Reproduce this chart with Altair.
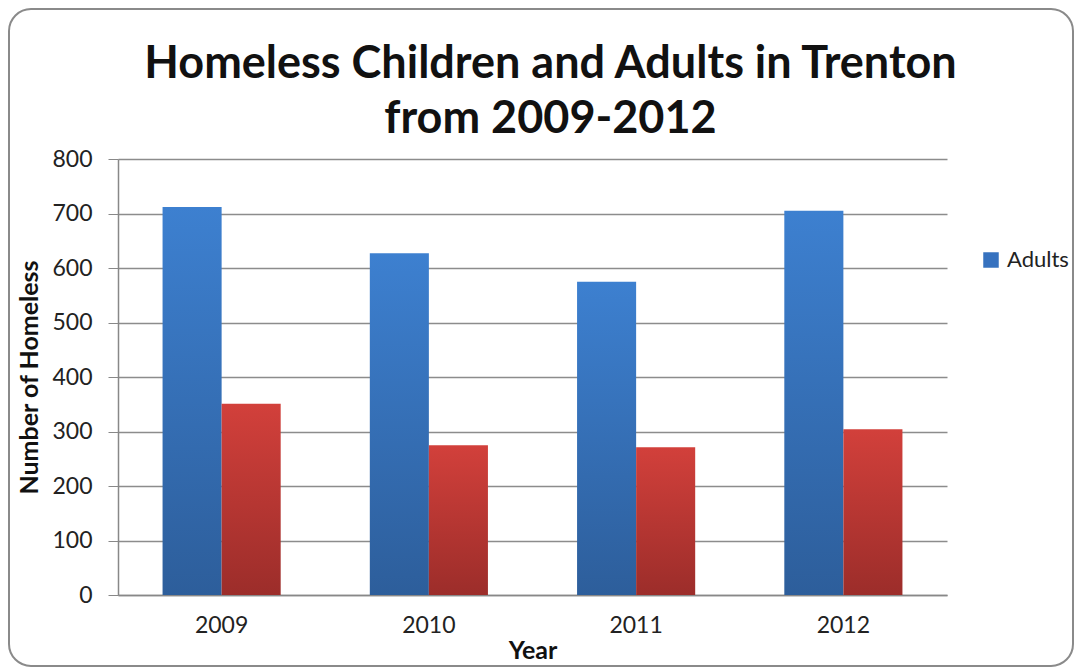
import altair as alt
import pandas as pd

years = ["2009", "2010", "2011", "2012"]
series = ["Adults", "Children"]
adults = [712, 627, 575, 705]
children = [351, 275, 271, 304]
y_ticks = [0, 100, 200, 300, 400, 500, 600, 700, 800]

df = pd.DataFrame({
    "Year": years * 2,
    "Series": [series[0]] * len(years) + [series[1]] * len(years),
    "Value": adults + children,
})

FONT = "Lato"

blue_grad = alt.LinearGradient(
    gradient="linear", x1=0, x2=0, y1=0, y2=1,
    stops=[alt.GradientStop(color="#3d80d0", offset=0),
           alt.GradientStop(color="#2d5e9b", offset=1)],
)
red_grad = alt.LinearGradient(
    gradient="linear", x1=0, x2=0, y1=0, y2=1,
    stops=[alt.GradientStop(color="#d2403b", offset=0),
           alt.GradientStop(color="#9c2d2a", offset=1)],
)

base = alt.Chart(df).encode(
    x=alt.X("Year:N", sort=years,
            scale=alt.Scale(paddingInner=0.43, paddingOuter=0.215),
            axis=alt.Axis(title="Year", labelAngle=0, ticks=False,
                          labelFontSize=23, labelColor="#222222", labelFont=FONT,
                          labelPadding=19, titleFont=FONT, titleFontSize=25,
                          titleFontWeight="bold", titleColor="#111111",
                          titlePadding=1, domainColor="#888888", domainWidth=1.5,
                          grid=False)),
    xOffset=alt.XOffset("Series:N", scale=alt.Scale(domain=series)),
    y=alt.Y("Value:Q", scale=alt.Scale(domain=[0, 800], nice=False),
            axis=alt.Axis(title="Number of Homeless", values=y_ticks,
                          labelFontSize=23, labelColor="#222222", labelFont=FONT,
                          tickSize=10, tickColor="#888888", labelPadding=16,
                          titleFont=FONT, titleFontSize=25, titleFontWeight="bold",
                          titleColor="#111111", titlePadding=9,
                          gridColor="#8c8c8c", gridWidth=1.3,
                          domainColor="#888888", domainWidth=1.5)),
)

adult_bars = base.transform_filter(alt.datum.Series == "Adults").mark_bar(color=blue_grad)
child_bars = base.transform_filter(alt.datum.Series == "Children").mark_bar(color=red_grad)
legend_layer = base.transform_filter(alt.datum.Series == "Adults").mark_bar(opacity=0).encode(
    color=alt.Color("Series:N",
                    scale=alt.Scale(domain=["Adults"], range=["#3672bf"]),
                    legend=alt.Legend(title=None, orient="none", legendX=862, legendY=90,
                                      symbolType="square", symbolSize=240,
                                      symbolOpacity=1, symbolStrokeWidth=0,
                                      labelFont=FONT, labelFontSize=22,
                                      labelColor="#222222", labelOffset=5, padding=0))
)

border = alt.Chart(pd.DataFrame({"k": [0]})).mark_rect(
    fill="transparent", stroke="#8a8a8a", strokeWidth=2, cornerRadius=22, clip=False
).encode(x=alt.value(-109), x2=alt.value(955), y=alt.value(-150), y2=alt.value(507))

chart = alt.layer(border, adult_bars, child_bars, legend_layer).properties(
    width=829, height=436,
    title=alt.TitleParams(
        ["Homeless Children and Adults in Trenton", "from 2009-2012"],
        font=FONT, fontSize=45, fontWeight="bold", color="#111111",
        anchor="middle", dx=18, offset=-134, lineHeight=55,
    ),
    autosize=alt.AutoSizeParams(type="none"),
    padding={"left": 110, "top": 151, "right": 128, "bottom": 72},
).configure_view(stroke=None)

chart.save("out.html", embed_options={"renderer": "svg", "actions": False})
